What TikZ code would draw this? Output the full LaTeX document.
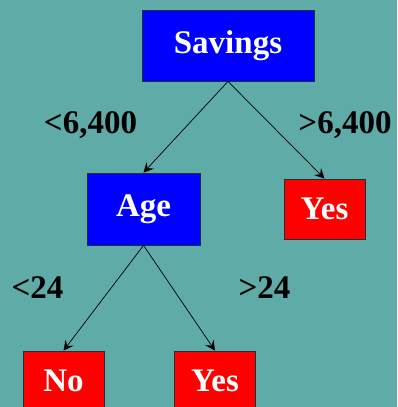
\documentclass[tikz,border=0pt]{standalone}
\usepackage{fontspec}
\setmainfont{Liberation Serif}
\usetikzlibrary{arrows.meta}
\definecolor{slide}{RGB}{94,171,168}
\definecolor{edgegray}{RGB}{30,50,50}

\begin{document}
\begin{tikzpicture}[x=1pt, y=-1pt, every node/.style={font=\fontsize{33}{36}\selectfont\bfseries, inner sep=0pt},
    split/.style={draw=edgegray, line width=0.8pt, fill=blue, text=white},
    leaf/.style={draw=edgegray, line width=0.8pt, fill=red, text=white, minimum width=81pt, minimum height=60pt},
    branch/.style={->, >={Stealth[length=10pt, width=10pt, inset=4pt]}, black, line width=0.7pt}]
  \fill[slide] (0,0) rectangle (397,407);
  \clip (0,0) rectangle (397,407);
  % tree nodes
  \node[split, minimum width=172pt, minimum height=71pt] (savings) at (228,45.5) {Savings};
  \node[split, minimum width=113pt, minimum height=72pt] (age) at (143.5,209) {Age};
  \node[leaf] (yesR) at (324.5,209) {Yes};
  \node[leaf] (no) at (63.5,381) {No};
  \node[leaf] (yesL) at (215,381) {Yes};
  % branches
  \draw[branch] (savings.south) -- (age.north);
  \draw[branch] (savings.south) -- (yesR.north);
  \draw[branch] (age.south) -- (no.north);
  \draw[branch] (age.south) -- (yesL.north);
  % split values
  \node (lowSav) at (90.5,125) {<6,400};
  \node (highSav) at (345,125) {>6,400};
  \node (lowAge) at (37.5,288) {<24};
  \node (highAge) at (264.5,288) {>24};
\end{tikzpicture}
\end{document}
